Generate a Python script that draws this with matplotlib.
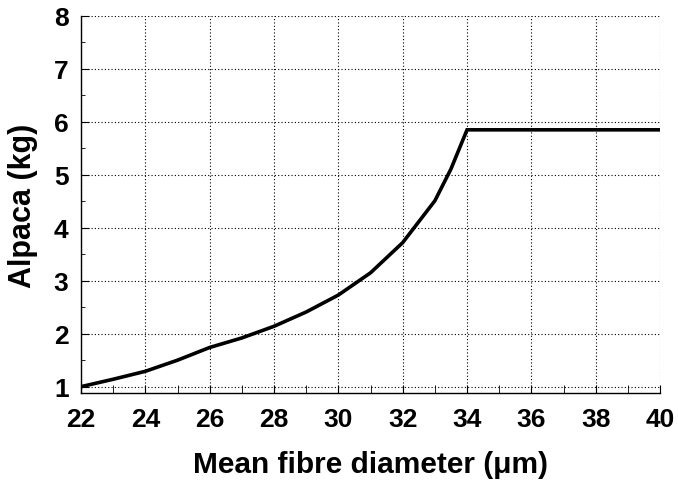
"""Alpaca fleece weight against mean fibre diameter."""

import matplotlib
matplotlib.use("Agg")
import matplotlib.pyplot as plt
from matplotlib.ticker import MultipleLocator

# fibre diameter (um) and fleece weight (kg)
diameter = [22, 23, 24, 25, 26, 27, 28, 29, 30, 31, 32, 33, 33.5, 34, 35, 36, 37, 38, 39, 40]
alpaca_kg = [1.00, 1.14, 1.29, 1.50, 1.74, 1.92, 2.14, 2.41, 2.73, 3.15, 3.72, 4.51, 5.11,
             5.85, 5.85, 5.85, 5.85, 5.85, 5.85, 5.85]

x_ticks = [22, 24, 26, 28, 30, 32, 34, 36, 38, 40]
y_ticks = [1, 2, 3, 4, 5, 6, 7, 8]

plt.rcParams["font.family"] = ["Liberation Sans", "DejaVu Sans"]
plt.rcParams["font.weight"] = "bold"

fig = plt.figure(figsize=(6.78, 4.85), dpi=100)
ax = fig.add_axes([0.1195, 0.1876, 0.854, 0.7774])

ax.plot(diameter, alpaca_kg, color="black", linewidth=2.6, solid_joinstyle="miter", zorder=3)

ax.set_xlim(22, 40)
ax.set_ylim(0.88, 8)
ax.set_xticks(x_ticks)
ax.set_yticks(y_ticks)
ax.xaxis.set_minor_locator(MultipleLocator(1))
ax.yaxis.set_minor_locator(MultipleLocator(0.5))

ax.grid(True, which="major", color="black", linestyle=(0, (1, 2)), linewidth=0.8)
for side in ("top", "right"):
    ax.spines[side].set_visible(False)
for side in ("left", "bottom"):
    ax.spines[side].set_linewidth(1.0)

ax.tick_params(axis="both", which="both", direction="in", color="black")
ax.tick_params(axis="x", which="major", length=6, pad=10, labelsize=19)
ax.tick_params(axis="x", which="minor", length=6)
ax.tick_params(axis="y", which="major", length=6, pad=9, labelsize=19)
ax.tick_params(axis="y", which="minor", length=3)
for lab in ax.get_xticklabels() + ax.get_yticklabels():
    lab.set_fontweight("bold")

ax.set_xlabel("Mean fibre diameter (\u03bcm)", fontsize=21.5, fontweight="bold", labelpad=14)
ax.set_ylabel("Alpaca (kg)", fontsize=22, fontweight="bold", labelpad=11)

fig.savefig("out.png", dpi=100)
